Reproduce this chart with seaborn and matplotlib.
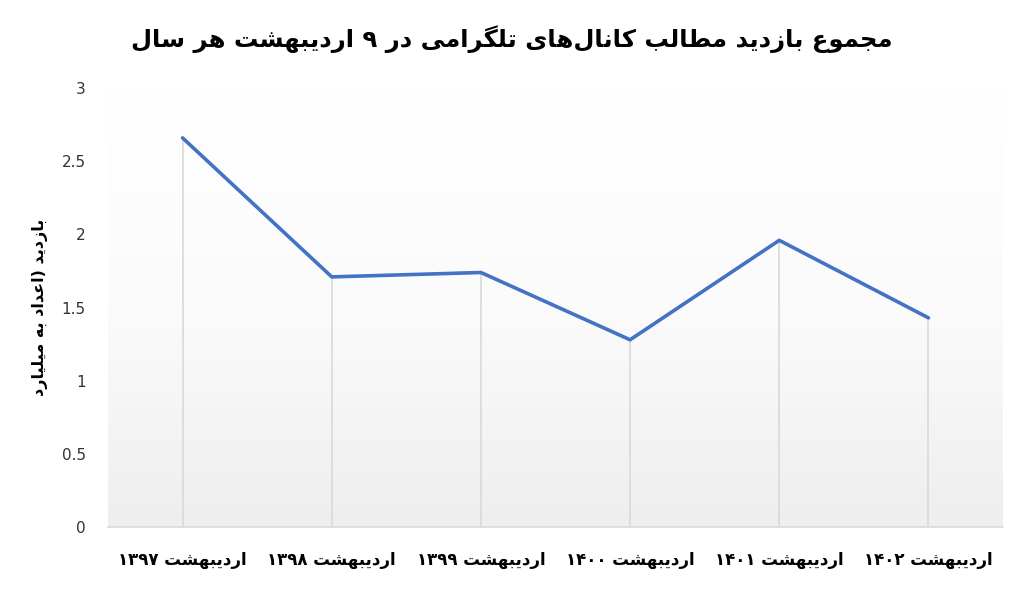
import re

import matplotlib
matplotlib.use("Agg")
import matplotlib.pyplot as plt
import numpy as np
import pandas as pd
import seaborn as sns
from matplotlib.colors import LinearSegmentedColormap

# --- data -------------------------------------------------------------------
years = ["۱۳۹۷", "۱۳۹۸", "۱۳۹۹", "۱۴۰۰", "۱۴۰۱", "۱۴۰۲"]
month = "اردیبهشت"
views_bn = [2.66, 1.71, 1.74, 1.28, 1.96, 1.43]

title_text = "مجموع بازدید مطالب کانال‌های تلگرامی در ۹ اردیبهشت هر سال"
ylabel_text = "بازدید (اعداد به میلیارد"
yticks = [0, 0.5, 1, 1.5, 2, 2.5, 3]
ytick_labels = ["0", "0.5", "1", "1.5", "2", "2.5", "3"]

# --- minimal Arabic/Persian shaping (matplotlib has no shaping engine) --------
FORMS = {
    "ا": ("\uFE8D", "\uFE8E"),
    "د": ("\uFEA9", "\uFEAA"),
    "ر": ("\uFEAD", "\uFEAE"),
    "ز": ("\uFEAF", "\uFEB0"),
    "و": ("\uFEED", "\uFEEE"),
    "ب": ("\uFE8F", "\uFE90", "\uFE91", "\uFE92"),
    "ت": ("\uFE95", "\uFE96", "\uFE97", "\uFE98"),
    "ج": ("\uFE9D", "\uFE9E", "\uFE9F", "\uFEA0"),
    "س": ("\uFEB1", "\uFEB2", "\uFEB3", "\uFEB4"),
    "ش": ("\uFEB5", "\uFEB6", "\uFEB7", "\uFEB8"),
    "ط": ("\uFEC1", "\uFEC2", "\uFEC3", "\uFEC4"),
    "ع": ("\uFEC9", "\uFECA", "\uFECB", "\uFECC"),
    "ل": ("\uFEDD", "\uFEDE", "\uFEDF", "\uFEE0"),
    "م": ("\uFEE1", "\uFEE2", "\uFEE3", "\uFEE4"),
    "ن": ("\uFEE5", "\uFEE6", "\uFEE7", "\uFEE8"),
    "ه": ("\uFEE9", "\uFEEA", "\uFEEB", "\uFEEC"),
    "ک": ("\uFB8E", "\uFB8F", "\uFB90", "\uFB91"),
    "گ": ("\uFB92", "\uFB93", "\uFB94", "\uFB95"),
    "ی": ("\uFBFC", "\uFBFD", "\uFBFE", "\uFBFF"),
}
MIRROR = {"(": ")", ")": "("}


def fa(text):
    out = []
    for i, c in enumerate(text):
        f = FORMS.get(c)
        if f is None:
            out.append(c)
            continue
        prev = text[i - 1] if i > 0 else ""
        nxt = text[i + 1] if i + 1 < len(text) else ""
        jp = prev in FORMS and len(FORMS[prev]) == 4
        jn = len(f) == 4 and nxt in FORMS
        if jp and jn:
            out.append(f[3])
        elif jp:
            out.append(f[1])
        elif jn:
            out.append(f[2])
        else:
            out.append(f[0])
    s = "".join(out).replace("\u200c", "")
    runs = re.findall(r"[0-9۰-۹.]+|[^0-9۰-۹.]+", s)
    vis = []
    for r in reversed(runs):
        if re.fullmatch(r"[0-9۰-۹.]+", r):
            vis.append(r)
        else:
            vis.append("".join(MIRROR.get(ch, ch) for ch in reversed(r)))
    return "".join(vis)


# --- plot -------------------------------------------------------------------
df = pd.DataFrame({"idx": range(len(years)), "views": views_bn})
xlabels = [fa(f"{month} {y}") for y in years]

sns.set_style("white")
plt.rcParams["font.family"] = ["DejaVu Sans"]

fig = plt.figure(figsize=(10.24, 5.92), dpi=100)
ax = fig.add_axes([0.1055, 0.1098, 0.874, 0.7412])

# plot-area fill: white at the top fading to light grey at the bottom
grad = LinearSegmentedColormap.from_list("bg", ["#ffffff", "#fbfbfb", "#eeeeee"])
ax.imshow(np.linspace(0, 1, 256).reshape(-1, 1), extent=[-0.5, 5.5, 0, 3],
          aspect="auto", cmap=grad, zorder=0, origin="upper")

ax.vlines(df["idx"], 0, df["views"], color="#d9d9d9", lw=1.2, zorder=1)
sns.lineplot(data=df, x="idx", y="views", ax=ax, color="#4472C4", lw=2.6,
             zorder=3)

ax.set_xlim(-0.5, 5.5)
ax.set_ylim(0, 3)
ax.set_xticks(df["idx"])
ax.set_xticklabels(xlabels, fontsize=12, fontweight="bold", color="black")
ax.set_yticks(yticks)
ax.set_yticklabels(ytick_labels, fontsize=11, color="#333333")
ax.tick_params(axis="both", length=0)
ax.tick_params(axis="x", pad=17)
ax.tick_params(axis="y", pad=16)
ax.set_xlabel("")
ax.set_ylabel(fa(ylabel_text), fontsize=11.5, fontweight="bold", labelpad=10,
              color="black")

for side in ["top", "left", "right"]:
    ax.spines[side].set_visible(False)
ax.spines["bottom"].set_color("#d9d9d9")
ax.spines["bottom"].set_linewidth(1.2)

fig.suptitle(fa(title_text), fontsize=17.5, fontweight="heavy", y=0.958,
             color="black")

plt.savefig("out.png", dpi=100)
plt.close()
